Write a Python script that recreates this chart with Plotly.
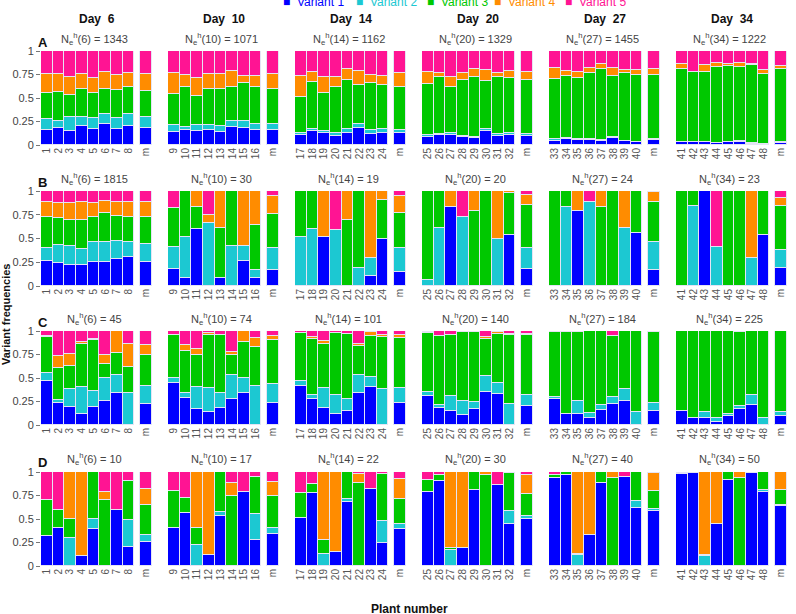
import plotly.graph_objects as go

# ---------------- data ----------------
days = [6, 10, 14, 20, 27, 34]
row_letters = ["A", "B", "C", "D"]
variant_names = ["Variant 1", "Variant 2", "Variant 3", "Variant 4", "Variant 5"]
variant_colors = ["#0000FF", "#1CC8D2", "#00C800", "#FF8C00", "#FF1493"]

ne_row_A = [1343, 1071, 1162, 1329, 1455, 1222]
ne_row_B = [1815, 30, 19, 20, 24, 23]
ne_row_C = [45, 74, 101, 140, 184, 225]
ne_row_D = [10, 17, 22, 30, 40, 50]

# cumulative tops of (variant1, variant2, variant3, variant4); variant5 fills to 1
# each panel: 8 plants + mean ("m")
row_A_cum = [
    [(0.16,0.277,0.55,0.76),(0.184,0.26,0.567,0.755),(0.149,0.30,0.53,0.727),(0.206,0.30,0.60,0.755),(0.17,0.29,0.55,0.716),(0.223,0.33,0.596,0.78),(0.167,0.284,0.585,0.745),(0.206,0.33,0.613,0.762),(0.184,0.294,0.578,0.755)],
    [(0.142,0.213,0.539,0.762),(0.16,0.195,0.613,0.745),(0.152,0.213,0.52,0.709),(0.16,0.213,0.60,0.755),(0.138,0.206,0.596,0.755),(0.195,0.26,0.613,0.787),(0.184,0.26,0.663,0.738),(0.16,0.223,0.613,0.738),(0.16,0.22,0.592,0.755)],
    [(0.106,0.124,0.514,0.734),(0.152,0.17,0.674,0.78),(0.124,0.149,0.55,0.72),(0.096,0.124,0.613,0.727),(0.131,0.167,0.69,0.805),(0.177,0.22,0.638,0.79),(0.117,0.16,0.663,0.745),(0.131,0.17,0.638,0.738),(0.131,0.16,0.62,0.762)],
    [(0.089,0.106,0.649,0.78),(0.106,0.117,0.72,0.77),(0.106,0.124,0.613,0.727),(0.089,0.099,0.69,0.762),(0.071,0.089,0.72,0.805),(0.149,0.167,0.684,0.798),(0.096,0.113,0.72,0.77),(0.106,0.124,0.709,0.787),(0.099,0.117,0.69,0.773)],
    [(0.046,0.06,0.70,0.816),(0.064,0.071,0.734,0.787),(0.053,0.06,0.716,0.78),(0.053,0.06,0.762,0.823),(0.043,0.05,0.809,0.862),(0.078,0.085,0.738,0.823),(0.039,0.046,0.762,0.794),(0.028,0.035,0.745,0.798),(0.053,0.06,0.745,0.809)],
    [(0.028,0.035,0.809,0.858),(0.028,0.032,0.773,0.777),(0.028,0.032,0.78,0.851),(0.018,0.021,0.826,0.876),(0.028,0.032,0.844,0.862),(0.035,0.039,0.833,0.876),(0.014,0.018,0.851,0.858),(0.004,0.007,0.752,0.798),(0.025,0.028,0.805,0.84)],
]
row_B_cum = [
    [(0.26,0.40,0.73,0.887),(0.246,0.43,0.72,0.87),(0.225,0.42,0.70,0.87),(0.222,0.394,0.694,0.88),(0.254,0.458,0.73,0.87),(0.25,0.465,0.764,0.894),(0.282,0.475,0.74,0.887),(0.306,0.468,0.73,0.887),(0.254,0.437,0.73,0.88)],
    [(0.176,0.412,0.824,0.824),(0.088,0.518,1,1),(0.595,0.595,0.827,1),(0,0.658,0.658,0.746),(0.088,0.088,0.606,1),(0,0.42,1,1),(0.264,0.42,0.42,1),(0.088,0.165,0.64,1),(0.165,0.405,0.754,0.947)],
    [(0,0.52,1,1),(0,0.60,1,1),(0.512,0.512,0.512,1),(0,0.59,0.59,0.59),(0,0,0.70,1),(0,0.186,1,1),(0.105,0.30,0.30,1),(0.49,0.49,0.905,1),(0.144,0.40,0.765,0.947)],
    [(0,0.067,1,1),(0,0.613,1,1),(0.827,0.827,0.827,1),(0,0.729,0.729,0.729),(0,0,0.789,1),(0,0,1,1),(0,0.50,0.50,1),(0.542,0.542,0.975,1),(0.176,0.405,0.852,0.958)],
    [(0,0,1,1),(0,0.835,1,1),(0.789,0.789,0.789,1),(0,0.887,0.887,0.887),(0,0,0.835,1),(0,0,1,1),(0,0.606,0.606,1),(0.553,0.553,1,1),(0.173,0.458,0.887,0.986)],
    [(0,0,1,1),(0,0.842,1,1),(1,1,1,1),(0,0.412,0.412,0.412),(0,0,1,1),(0,0,1,1),(0,0.30,0.30,1),(0.535,0.535,1,1),(0.194,0.384,0.842,0.923)],
]
row_C_cum = [
    [(0.466,0.548,0.936,0.947),(0.237,0.265,0.608,0.731),(0.187,0.382,0.625,0.753),(0.113,0.406,0.866,0.883),(0.194,0.36,0.90,0.92),(0.254,0.495,0.654,0.742),(0.343,0.537,0.77,1.0),(0,0.336,0.618,0.859),(0.223,0.417,0.749,0.848)],
    [(0.452,0.502,0.961,0.961),(0.29,0.343,0.784,0.855),(0.166,0.406,0.749,0.813),(0.141,0.396,0.961,0.979),(0.184,0.336,0.954,0.954),(0.272,0.53,0.749,0.777),(0.336,0.502,0.883,1.0),(0,0.413,0.83,0.926),(0.237,0.431,0.90,0.943)],
    [(0.418,0.468,0.975,0.975),(0.273,0.319,0.911,0.94),(0.184,0.39,0.858,0.897),(0.117,0.319,0.975,0.975),(0.152,0.28,0.968,0.968),(0.337,0.532,0.844,0.862),(0.40,0.514,0.947,0.993),(0,0.379,0.94,0.957),(0.23,0.397,0.929,0.957)],
    [(0.311,0.353,0.982,0.989),(0.177,0.212,0.947,0.947),(0.152,0.311,0.954,0.961),(0.106,0.254,0.989,0.989),(0.166,0.247,0.989,0.989),(0.353,0.523,0.919,0.936),(0.325,0.452,0.972,0.989),(0,0.223,0.961,0.972),(0.201,0.318,0.961,0.972)],
    [(0.272,0.293,0.989,0.989),(0.117,0.117,0.985,0.985),(0.117,0.254,0.989,0.989),(0.071,0.131,0.995,0.995),(0.159,0.212,0.995,0.995),(0.223,0.30,0.943,0.943),(0.254,0.382,0.995,0.995),(0,0.141,0.995,0.995),(0.148,0.23,0.985,0.985)],
    [(0.152,0.152,1,1),(0.071,0.078,1,1),(0.078,0.141,1,1),(0.035,0.071,1,1),(0.099,0.113,1,1),(0.17,0.201,0.99,0.99),(0.212,0.318,1,1),(0,0.071,1,1),(0.099,0.141,1,1)],
]
row_D_cum = [
    [(0.316,0.316,0.699,0.699),(0.404,0.404,0.599,0.599),(0,0.298,0.504,1),(0.106,0.106,0.106,1),(0.397,0.496,1,1),(0,0,0.699,0.787),(0.599,0.599,0.599,0.599),(0.202,0.486,0.904,0.904),(0.255,0.333,0.645,0.823)],
    [(0.408,0.408,0.798,0.798),(0.564,0.564,0.723,0.723),(0,0.22,0.408,1),(0.113,0.113,0.113,1),(0.528,0.574,1,1),(0,0,0.745,0.883),(0.787,0.787,0.787,0.787),(0.273,0.55,0.947,0.947),(0.337,0.404,0.745,0.894)],
    [(0.514,0.514,0.773,0.773),(0.78,0.78,0.869,0.869),(0,0.124,0.273,1),(0.152,0.152,0.152,1),(0.681,0.709,1,1),(0,0,0.887,0.982),(0.816,0.816,0.816,0.816),(0.248,0.479,0.975,0.975),(0.397,0.443,0.716,0.922)],
    [(0.787,0.787,0.918,0.918),(0.904,0.904,0.965,0.965),(0,0.174,0.195,1),(0.195,0.195,0.195,1),(0.812,0.812,1,1),(0,0,0.965,1),(0.858,0.858,0.858,0.858),(0.45,0.582,0.989,0.989),(0.504,0.528,0.77,0.965)],
    [(0.94,0.94,0.972,0.972),(0.965,0.965,1,1),(0,0.121,0.131,1),(0.333,0.333,0.333,1),(0.887,0.887,1,1),(0,0,0.94,1),(0.947,0.947,0.947,0.947),(0.617,0.688,1,1),(0.585,0.603,0.794,0.993)],
    [(0.982,0.982,0.993,0.993),(0.993,0.993,1,1),(0,0.103,0.113,1),(0.443,0.443,0.443,1),(0.918,0.918,1,1),(0,0,0.936,1),(0.993,0.993,0.993,0.993),(0.787,0.812,1,1),(0.638,0.652,0.812,1)],
]
rows_cum = [row_A_cum, row_B_cum, row_C_cum, row_D_cum]
rows_ne = [ne_row_A, ne_row_B, ne_row_C, ne_row_D]

bar_positions = [1, 2, 3, 4, 5, 6, 7, 8, 9.5]
y_ticks = [0, 0.25, 0.5, 0.75, 1]
y_ticktext = ["0", "0.25", "0.5", "0.75", "1"]

# ---------------- layout geometry (pixels) ----------------
W, H = 796, 614
col_left = [41, 168, 295, 422, 549, 676]
panel_w = 111
row_top = [51, 191, 331, 472]
row_bot = [145, 286, 425, 566]
ne_y = [39, 179, 319, 459]
FONT = "Liberation Sans, Arial, sans-serif"

fig = go.Figure()
layout_axes = {}
annotations = []

for r in range(4):
    for c in range(6):
        p = r * 6 + c
        suf = "" if p == 0 else str(p + 1)
        cum = rows_cum[r][c]
        freqs = []
        for b in cum:
            tops = list(b) + [1.0]
            prev = 0.0
            f = []
            for t in tops:
                f.append(max(t - prev, 0.0))
                prev = t
            freqs.append(f)
        for v in range(5):
            fig.add_trace(go.Bar(
                x=bar_positions,
                y=[f[v] for f in freqs],
                width=1.0,
                marker=dict(color=variant_colors[v],
                            line=dict(color="#E4E4F4", width=1)),
                name=variant_names[v],
                showlegend=False,
                xaxis="x" + suf, yaxis="y" + suf,
            ))
        x0 = col_left[c] / W
        x1 = (col_left[c] + panel_w) / W
        y0 = 1 - row_bot[r] / H
        y1 = 1 - row_top[r] / H
        plants = [str(c * 8 + i + 1) for i in range(8)] + ["m"]
        layout_axes["xaxis" + suf] = dict(
            domain=[x0, x1], anchor="y" + suf, range=[0.5, 10.0],
            tickmode="array", tickvals=bar_positions, ticktext=plants,
            tickangle=-90, showgrid=False, zeroline=False, showline=False,
            ticks="", tickfont=dict(size=10, color="#555555", family=FONT),
            automargin=False, fixedrange=True,
        )
        layout_axes["yaxis" + suf] = dict(
            domain=[y0, y1], anchor="x" + suf, range=[0, 1],
            tickmode="array", tickvals=y_ticks, ticktext=y_ticktext,
            showticklabels=(c == 0), ticks="outside" if c == 0 else "",
            ticklen=4, tickcolor="#777777",
            showgrid=False, zeroline=False, showline=False,
            tickfont=dict(size=11, color="#444444", family=FONT),
            automargin=False, fixedrange=True,
        )
        annotations.append(dict(
            x=(col_left[c] + panel_w / 2 - 2) / W, y=1 - ne_y[r] / H,
            xref="paper", yref="paper", xanchor="center", yanchor="middle",
            text="N<sub>e</sub><sup>h</sup>(%d) = %d" % (days[c], rows_ne[r][c]),
            showarrow=False, font=dict(size=11, color="#444444", family=FONT),
        ))
    annotations.append(dict(
        x=36 / W, y=1 - (ne_y[r] + 3) / H, xref="paper", yref="paper",
        xanchor="left", yanchor="middle", text="<b>%s</b>" % row_letters[r],
        showarrow=False, font=dict(size=13, color="#111111", family=FONT),
    ))

for c in range(6):
    annotations.append(dict(
        x=(col_left[c] + panel_w / 2) / W, y=1 - 19 / H,
        xref="paper", yref="paper", xanchor="center", yanchor="middle",
        text="<b>Day  %d</b>" % days[c], showarrow=False,
        font=dict(size=12, color="#111111", family=FONT),
    ))

# legend across the top (partly cut by the top edge)
legend_x = [281, 354, 425, 492, 563]
for v in range(5):
    annotations.append(dict(
        x=legend_x[v] / W, y=1 - 2 / H, xref="paper", yref="paper",
        xanchor="left", yanchor="middle",
        text="■  " + variant_names[v], showarrow=False,
        font=dict(size=12, color=variant_colors[v], family=FONT),
    ))

annotations.append(dict(
    x=6 / W, y=1 - 314 / H, xref="paper", yref="paper",
    xanchor="center", yanchor="middle", textangle=-90,
    text="<b>Variant frequencies</b>", showarrow=False,
    font=dict(size=11, color="#111111", family=FONT),
))
annotations.append(dict(
    x=410 / W, y=1 - 609 / H, xref="paper", yref="paper",
    xanchor="center", yanchor="middle",
    text="<b>Plant number</b>", showarrow=False,
    font=dict(size=12, color="#111111", family=FONT),
))

fig.update_layout(
    width=W, height=H, barmode="stack", bargap=0,
    margin=dict(l=0, r=0, t=0, b=0, autoexpand=False),
    paper_bgcolor="white", plot_bgcolor="white",
    showlegend=False, annotations=annotations,
    font=dict(family=FONT),
    **layout_axes,
)

fig.write_html(
    "out.html",
    config={"displayModeBar": False},
    post_script="document.body.style.margin='0';document.body.style.overflow='hidden';",
)
